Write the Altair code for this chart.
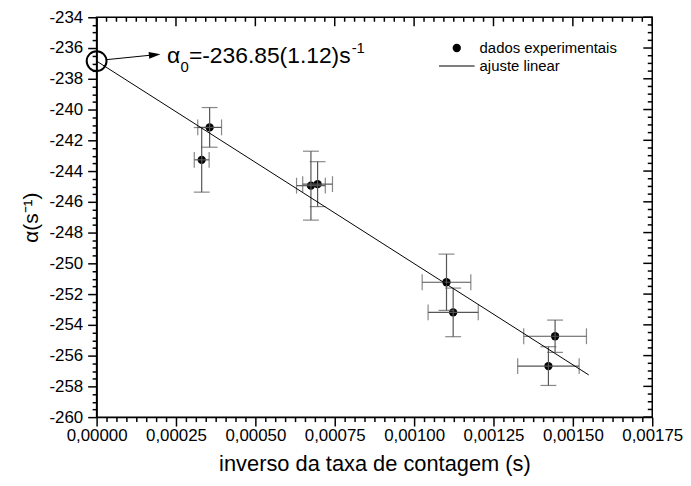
import altair as alt
import pandas as pd

# ---------------- data ----------------
x_vals = [0.000331, 0.000356, 0.000675, 0.000696, 0.001102, 0.001123, 0.001444, 0.001423]
y_vals = [-243.27, -241.16, -244.95, -244.85, -251.23, -253.19, -254.74, -256.68]
x_err = [0.0000234, 0.0000375, 0.0000453, 0.0000469, 0.0000766, 0.0000790, 0.0000988, 0.0000968]
y_err = [2.10, 1.29, 2.24, 1.46, 1.83, 1.58, 1.05, 1.26]

fit_intercept = -236.85
fit_slope = -13165.0
fit_x = [0.0, 0.00155]

x_major = [0.0, 0.00025, 0.0005, 0.00075, 0.001, 0.00125, 0.0015, 0.00175]
x_minor_step = 0.00003125
y_major = list(range(-260, -233, 2))
y_minor_step = 0.5

legend_labels = ["dados experimentais", "ajuste linear"]
x_title = "inverso da taxa de contagem (s)"
y_title = "α(s⁻¹)"

# annotation (fit intercept with arrow + text)
annot_arrow_x = [0.0000294, 0.000183]
annot_arrow_y = [-236.76, -236.44]
annot_head = (0.000183, -236.44)
annot_anchor = (0.000222, -236.98)
annot_pieces = ["α", "0", "=-236.85(1.12)s", "-1"]

# ---------------- geometry / style ----------------
W, H = 560, 403
FONT = "Liberation Sans"
EB = "#555555"
MAJ, MIN = 9, 4.5

x_ticks = [round(i * x_minor_step, 10) for i in range(int(round(0.00175 / x_minor_step)) + 1)]
y_ticks = [-260 + y_minor_step * i for i in range(int(26 / y_minor_step) + 1)]

xscale = alt.Scale(domain=[0, 0.00175], nice=False, zero=False)
yscale = alt.Scale(domain=[-260, -234], nice=False, zero=False)

x_is_major = "abs(datum.value/0.00025 - round(datum.value/0.00025)) < 1e-6"
y_is_major = "abs(datum.value/2 - round(datum.value/2)) < 1e-6"

x_axis = alt.Axis(
    orient="bottom", values=x_ticks, title=x_title, grid=False,
    tickSize={"condition": {"test": x_is_major, "value": MAJ}, "value": MIN},
    labelExpr=f"({x_is_major}) ? replace(format(datum.value, '.5f'), '.', ',') : ''",
    labelFontSize=17, labelPadding=2, titleFontSize=22, titlePadding=10,
    titleFontWeight="normal", labelOverlap=False, labelFlush=False,
)
y_axis = alt.Axis(
    orient="left", values=y_ticks, title=y_title, grid=False,
    tickSize={"condition": {"test": y_is_major, "value": MAJ}, "value": MIN},
    labelExpr=f"({y_is_major}) ? toString(datum.value) : ''",
    labelFontSize=17, labelPadding=5, titleFontSize=21, titlePadding=8,
    titleFontWeight="normal", labelOverlap=False,
)

pts = pd.DataFrame({"x": x_vals, "y": y_vals, "xe": x_err, "ye": y_err})
pts["xlo"] = pts.x - pts.xe
pts["xhi"] = pts.x + pts.xe
pts["ylo"] = pts.y - pts.ye
pts["yhi"] = pts.y + pts.ye
pts["serie"] = legend_labels[0]

ycaps = pd.DataFrame({"x": list(pts.x) * 2, "y": list(pts.ylo) + list(pts.yhi)})
xcaps = pd.DataFrame({"x": list(pts.xlo) + list(pts.xhi), "y": list(pts.y) * 2})
fit = pd.DataFrame({"x": fit_x, "y": [fit_intercept + fit_slope * v for v in fit_x]})

def X(f="x"):
    return alt.X(f"{f}:Q", scale=xscale, axis=None)

def Y(f="y"):
    return alt.Y(f"{f}:Q", scale=yscale, axis=None)

base = alt.Chart(pts)

xerr = base.mark_rule(color=EB, strokeWidth=1.2).encode(x=X("xlo"), x2="xhi:Q", y=Y())
yerr = base.mark_rule(color=EB, strokeWidth=1.2).encode(x=X(), y=Y("ylo"), y2="yhi:Q")
ycap = alt.Chart(ycaps).mark_tick(orient="horizontal", size=16, thickness=1.2, color=EB).encode(x=X(), y=Y())
xcap = alt.Chart(xcaps).mark_tick(orient="vertical", size=16, thickness=1.2, color=EB).encode(x=X(), y=Y())

fit_line = alt.Chart(fit).mark_line(color="black", strokeWidth=1).encode(x=X(), y=Y())

leg = alt.Legend(
    orient="none", legendX=345, legendY=22, title=None, direction="vertical",
    columns=1, clipHeight=18, rowPadding=0, labelOffset=5, padding=0,
    labelFont=FONT, labelFontSize=15, labelColor="black", labelLimit=400,
    symbolStrokeWidth=0, symbolFillColor="black",
)
line_symbol = "M-1,-0.028L1,-0.028L1,0.028L-1,0.028Z"
points = base.mark_point(filled=True, color="black", opacity=1, strokeWidth=0).encode(
    x=alt.X("x:Q", scale=xscale, axis=x_axis),
    y=alt.Y("y:Q", scale=yscale, axis=y_axis),
    shape=alt.Shape("serie:N", scale=alt.Scale(domain=legend_labels, range=["circle", line_symbol]), legend=leg),
    size=alt.Size("serie:N", scale=alt.Scale(type="ordinal", domain=legend_labels, range=[70, 1296]), legend=leg),
)

# inward ticks on the top and right edges of the frame
xt = pd.DataFrame({"t": x_ticks})
yt = pd.DataFrame({"t": y_ticks})
top_major = alt.Chart(xt).transform_filter(x_is_major.replace("datum.value", "datum.t")).mark_rule(
    color="black", strokeWidth=1.5).encode(x=X("t"), y=alt.value(0), y2=alt.value(MAJ))
top_minor = alt.Chart(xt).transform_filter("!(" + x_is_major.replace("datum.value", "datum.t") + ")").mark_rule(
    color="black", strokeWidth=1.5).encode(x=X("t"), y=alt.value(0), y2=alt.value(MIN))
right_major = alt.Chart(yt).transform_filter(y_is_major.replace("datum.value", "datum.t")).mark_rule(
    color="black", strokeWidth=1.5).encode(y=Y("t"), x=alt.value(W), x2=alt.value(W - MAJ))
right_minor = alt.Chart(yt).transform_filter("!(" + y_is_major.replace("datum.value", "datum.t") + ")").mark_rule(
    color="black", strokeWidth=1.5).encode(y=Y("t"), x=alt.value(W), x2=alt.value(W - MIN))

circ_df = pd.DataFrame({"x": [0.0], "y": [fit_intercept]})
circle = alt.Chart(circ_df).mark_point(shape="circle", filled=False, color="black", strokeWidth=2, size=400, opacity=1).encode(x=X(), y=Y())

arrow_df = pd.DataFrame({"x": annot_arrow_x, "y": annot_arrow_y})
arrow = alt.Chart(arrow_df).mark_line(color="black", strokeWidth=1).encode(x=X(), y=Y())
head_df = pd.DataFrame({"x": [annot_head[0]], "y": [annot_head[1]]})
head = alt.Chart(head_df).mark_point(shape="M1,0L-1,-0.6L-1,0.6Z", filled=True, color="black", size=137, angle=354.2, opacity=1).encode(x=X(), y=Y())

anc = pd.DataFrame({"x": [annot_anchor[0]], "y": [annot_anchor[1]]})
def piece(txt, size, dx, dy):
    return alt.Chart(anc).mark_text(text=txt, font=FONT, fontSize=size, align="left", baseline="alphabetic",
                                    dx=dx, dy=dy, color="black").encode(x=X(), y=Y())
texts = [
    piece(annot_pieces[0], 23, 0, 0),
    piece(annot_pieces[1], 15, 13.5, 9),
    piece(annot_pieces[2], 23, 22, 0),
    piece(annot_pieces[3], 15, 186, -10),
]

chart = alt.layer(
    points, xerr, yerr, ycap, xcap, fit_line, top_major, top_minor, right_major, right_minor,
    circle, arrow, head, *texts
).resolve_axis(x="independent", y="independent").properties(
    width=W, height=H,
    padding={"left": 89.3, "top": 7.5, "right": 31, "bottom": 58},
    autosize=alt.AutoSizeParams(type="none"),
    background="white",
).configure_view(
    stroke="black", strokeWidth=1.5
).configure_axis(
    labelFont=FONT, titleFont=FONT, labelColor="black", titleColor="black",
    domainColor="black", domainWidth=1.5, tickColor="black", tickWidth=1.5,
    titleFontWeight="normal",
)

chart.save("out.html", embed_options={"renderer": "svg", "actions": False})
